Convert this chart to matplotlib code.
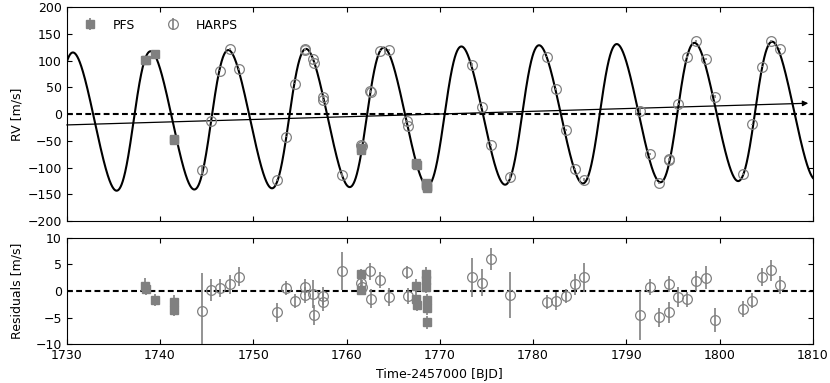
import numpy as np
import matplotlib.pyplot as plt

""" PFS points read off the figure: time, RV, residual, error (m/s) """
pfs_t = [1738.42, 1738.45, 1739.46, 1741.48, 1741.52, 1761.50, 1761.52,
         1767.48, 1767.50, 1767.52, 1768.52, 1768.55, 1768.57, 1768.60,
         1768.62, 1768.65]
pfs_rv = [102, 101, 113.3, -47, -49, -63, -67,
          -92, -94, -96, -128, -130, -133, -135,
          -137, -139]
pfs_res = [1.0, 0.4, -1.7, -2.0, -3.6, 3.2, 0.2,
           1.0, -1.4, -2.6, 3.3, 2.1, 0.8, -1.7,
           -3.2, -5.9]
pfs_err = [1.5, 1.2, 1.1, 1.2, 1.1, 1.0, 1.0,
           1.2, 1.2, 1.2, 1.2, 1.2, 1.2, 1.2,
           1.2, 1.2]

""" HARPS points """
harps_t = [1744.47, 1745.47, 1746.47, 1747.50, 1748.47, 1752.50, 1753.47,
           1754.47, 1755.50, 1755.58, 1756.43, 1756.54, 1757.43, 1757.50,
           1759.54, 1761.60, 1761.62, 1762.55, 1762.60, 1763.57, 1764.53,
           1766.50, 1766.55, 1773.50, 1774.55, 1775.48, 1777.50, 1781.54,
           1782.50, 1783.50, 1784.50, 1785.50, 1791.50, 1792.50, 1793.50,
           1794.52, 1794.57, 1795.50, 1796.50, 1797.50, 1798.50, 1799.50,
           1802.50, 1803.50, 1804.50, 1805.50, 1806.50]
harps_rv = [-104.5, -12.7, 81.5, 121.5, 84, -123, -42,
            57, 120, 122, 104, 96, 32, 26.6,
            -114.5, -57, -60, 44, 42, 119, 120,
            -12, -22, 92, 13.5, -58, -117, 107.7,
            46.6, -29.6, -102.6, -123, 6, -75, -129.5,
            -86, -84, 18.5, 107, 137, 103, 33,
            -112, -19, 89, 137.6, 121.5]
harps_res = [-3.75, 0.2, 0.5, 1.3, 2.7, -4.0, 0.6,
             -1.8, 0.7, -0.8, -0.6, -4.5, -0.9, -2.0,
             3.8, 1.6, 0.8, 3.7, -1.4, 2.1, -1.1,
             3.5, -0.9, 2.6, 1.6, 6.0, -0.75, -2.1,
             -1.9, -0.9, 1.25, 2.6, -4.5, 0.8, -4.9,
             1.3, -4.0, -1.1, -1.5, 1.9, 2.5, -5.4,
             -3.4, -1.8, 2.6, 3.9, 1.1]
harps_err = [7.2, 2.1, 1.7, 1.8, 1.8, 1.8, 1.3,
             1.3, 1.5, 1.5, 2.6, 1.8, 1.7, 1.7,
             3.6, 1.2, 1.2, 1.6, 1.7, 1.5, 1.7,
             1.3, 1.5, 3.7, 2.5, 2.0, 4.4, 1.3,
             1.7, 1.3, 2.0, 2.7, 4.6, 1.5, 1.8,
             1.5, 2.0, 1.8, 1.4, 1.8, 2.2, 2.2,
             1.5, 1.4, 1.7, 2.0, 1.7]

""" Orbit parameters estimated from the drawn model curve """
period = 8.33
k_amp = 130.0
ecc = 0.1
omega = -np.pi / 2
t_peri = 1745.5
gamma = -4.5
drift = 0.27      # m/s per day
t_ref = 1768.0

""" Trend arrow end points """
arrow_t = [1730.0, 1809.5]
arrow_rv = [-20.2, 20.4]

gray = '#808080'


def kepler_rv(t):
    """ Keplerian RV plus linear drift for times t """
    M = 2 * np.pi * (t - t_peri) / period
    E = M.copy()
    for i in range(40):
        E = E - (E - ecc * np.sin(E) - M) / (1 - ecc * np.cos(E))
    nu = 2 * np.arctan2(np.sqrt(1 + ecc) * np.sin(E / 2), np.sqrt(1 - ecc) * np.cos(E / 2))
    return k_amp * (np.cos(nu + omega) + ecc * np.cos(omega)) + gamma + drift * (t - t_ref)


plt.rcParams['font.size'] = 9

fig = plt.figure(figsize=(8.3, 3.83), dpi=100)
ax1 = fig.add_axes([0.0804, 0.423, 0.899, 0.558])
ax2 = fig.add_axes([0.0804, 0.101, 0.899, 0.278])

""" RV panel """
t_model = np.linspace(1730, 1810, 4000)
ax1.plot(t_model, kepler_rv(t_model), color='k', lw=1.5, zorder=2)
ax1.axhline(0, color='k', ls='--', lw=1.5, dashes=(2.8, 1.6), zorder=1)
ax1.annotate('', xy=(arrow_t[1], arrow_rv[1]), xytext=(arrow_t[0], arrow_rv[0]),
             arrowprops=dict(arrowstyle='-|>', color='k', lw=0.9, mutation_scale=8,
                             shrinkA=0, shrinkB=0))
ax1.errorbar(pfs_t, pfs_rv, yerr=pfs_err, fmt='s', color=gray, ms=5.5,
             elinewidth=1.2, capsize=0, label='PFS', zorder=3)
ax1.errorbar(harps_t, harps_rv, yerr=harps_err, fmt='o', mfc='none', mec=gray,
             ecolor=gray, ms=7, mew=0.9, elinewidth=1.2, capsize=0, label='HARPS', zorder=3)
ax1.set_xlim(1730, 1810)
ax1.set_ylim(-200, 200)
ax1.set_yticks(np.arange(-200, 201, 50))
ax1.set_ylabel('RV [m/s]')
ax1.yaxis.set_label_coords(-0.058, 0.5)
ax1.tick_params(direction='in', top=True, right=True, labelbottom=False)
ax1.legend(loc='upper left', ncol=2, frameon=False)

""" Residual panel """
ax2.axhline(0, color='k', ls='--', lw=1.5, dashes=(2.8, 1.6), zorder=1)
ax2.errorbar(pfs_t, pfs_res, yerr=pfs_err, fmt='s', color=gray, ms=5.5,
             elinewidth=1.2, capsize=0, zorder=3)
ax2.errorbar(harps_t, harps_res, yerr=harps_err, fmt='o', mfc='none', mec=gray,
             ecolor=gray, ms=7, mew=0.9, elinewidth=1.2, capsize=0, zorder=3)
ax2.set_xlim(1730, 1810)
ax2.set_ylim(-10, 10)
ax2.set_yticks([-10, -5, 0, 5, 10])
ax2.set_xlabel('Time-2457000 [BJD]')
ax2.set_ylabel('Residuals [m/s]')
ax2.yaxis.set_label_coords(-0.058, 0.5)
ax2.tick_params(direction='in', top=True, right=True)

plt.savefig('out.png', dpi=100)
